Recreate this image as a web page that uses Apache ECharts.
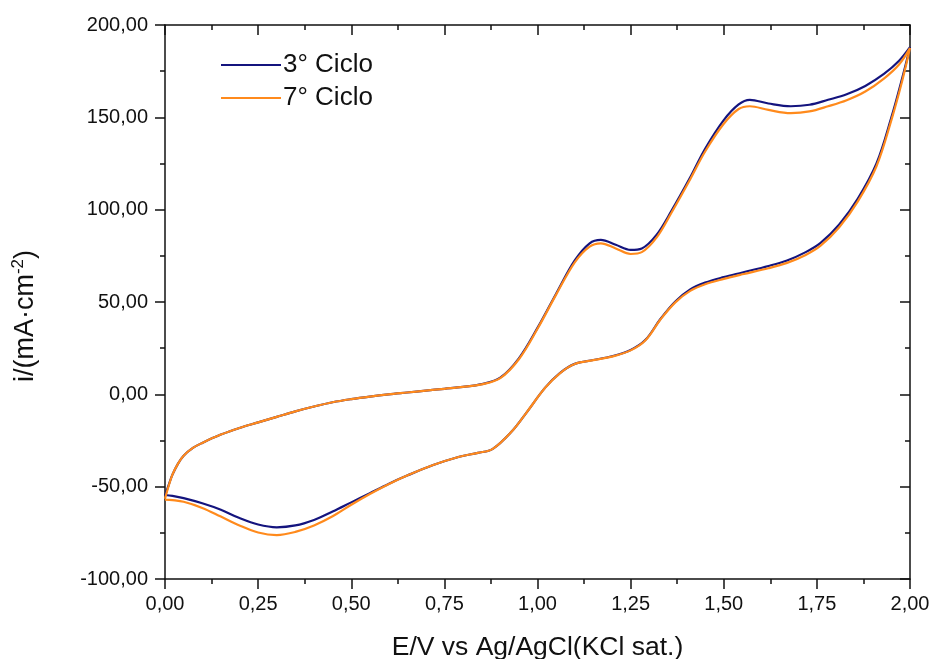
<!DOCTYPE html>
<html>
<head>
<meta charset="utf-8">
<script src="https://cdn.jsdelivr.net/npm/echarts@6/dist/echarts.min.js"></script>
<style>
html,body{margin:0;padding:0;background:#fff;}
#chart{width:934px;height:659px;}
</style>
</head>
<body>
<div id="chart"></div>
<script>
// Potential (V) for the forward (anodic) scan
const eForward = [0, 0.01, 0.02, 0.035, 0.05, 0.075, 0.1, 0.15, 0.2, 0.25, 0.3, 0.35, 0.4, 0.45, 0.5, 0.55, 0.6, 0.65, 0.7, 0.75, 0.8, 0.85, 0.9, 0.95, 1.0, 1.05, 1.1, 1.14, 1.17, 1.21, 1.25, 1.28, 1.32, 1.36, 1.41, 1.45, 1.5, 1.54, 1.57, 1.62, 1.68, 1.73, 1.78, 1.83, 1.88, 1.93, 1.97, 2.0];
// Potential (V) for the reverse (cathodic) scan
const eReverse = [2.0, 1.98, 1.95, 1.91, 1.86, 1.81, 1.76, 1.72, 1.67, 1.62, 1.55, 1.5, 1.45, 1.41, 1.37, 1.33, 1.29, 1.25, 1.2, 1.15, 1.1, 1.06, 1.02, 0.97, 0.93, 0.88, 0.84, 0.79, 0.72, 0.65, 0.6, 0.55, 0.5, 0.45, 0.4, 0.35, 0.3, 0.25, 0.2, 0.15, 0.1, 0.05, 0.02, 0];

// Current density (mA/cm2), 3rd cycle
const ciclo3Forward = [-55, -49, -43.5, -37.5, -33.2, -29, -26.3, -21.8, -18.2, -15.2, -12.2, -9.2, -6.6, -4.3, -2.6, -1.2, 0, 1, 2, 3, 4, 5.5, 9, 19.5, 36, 54.5, 72.5, 81.8, 83.6, 81, 78.2, 79, 86.5, 99.5, 117.5, 133, 148.5, 157, 159.5, 157.5, 156, 156.8, 159.5, 162.5, 167, 173.5, 180.5, 188];
const ciclo3Reverse = [188, 172, 150, 125, 106, 92, 82, 77, 72.5, 69.5, 66, 63.5, 60.5, 56.8, 50.3, 40.8, 29.5, 24, 20.6, 18.6, 16.5, 11.5, 3.5, -10, -20.3, -29.5, -31.7, -33.8, -38.3, -44, -48.5, -53.5, -58.5, -63.5, -68, -71, -72, -70.5, -67, -62.5, -59, -56.2, -55, -54.5];

// Current density (mA/cm2), 7th cycle
const ciclo7Forward = [-56.5, -49.5, -43.5, -37.5, -33.2, -29, -26.3, -21.8, -18.2, -15.2, -12.2, -9.2, -6.6, -4.3, -2.6, -1.2, 0, 1, 2, 3, 4, 5.4, 8.8, 19, 35.5, 54, 71.5, 80, 81.8, 79, 76, 77, 85, 98.5, 116.5, 131.5, 146.5, 154.5, 156, 154, 152.3, 153.2, 156, 159.3, 164, 171, 178.5, 187.5];
const ciclo7Reverse = [187.5, 170.5, 148.5, 123.5, 104.5, 90.5, 80.5, 75.5, 71.2, 68.3, 65, 62.5, 59.6, 56, 49.8, 40.5, 29.3, 23.8, 20.4, 18.5, 16.4, 11.4, 3.4, -10, -20.3, -29.5, -31.7, -33.8, -38.3, -44, -48.7, -54, -59.8, -66, -71, -74.5, -76.2, -74.8, -71, -66.2, -61.5, -58.2, -57.3, -57];

const seriesNames = ['3° Ciclo', '7° Ciclo'];
const xTitle = 'E/V vs Ag/AgCl(KCl sat.)';

function pairs(eArr, iArr) { return eArr.map((e, k) => [e, iArr[k]]); }
const data3 = pairs(eForward, ciclo3Forward).concat(pairs(eReverse, ciclo3Reverse));
const data7 = pairs(eForward, ciclo7Forward).concat(pairs(eReverse, ciclo7Reverse));

const fmt = v => v.toFixed(2).replace('.', ',');
const FONT = 'Liberation Sans, Arial, sans-serif';
const tickCol = '#111';

const chart = echarts.init(document.getElementById('chart'), null, {renderer: 'canvas'});
const xBase = {
  type: 'value', min: 0, max: 2, interval: 0.25,
  splitLine: {show: false},
  axisLine: {show: true, onZero: false, lineStyle: {color: tickCol, width: 1.5}},
  minorTick: {show: true, splitNumber: 2, length: 5, lineStyle: {color: tickCol, width: 1.5}},
  axisTick: {show: true, length: 10, lineStyle: {color: tickCol, width: 1.5}}
};
const yBase = {
  type: 'value', min: -100, max: 200, interval: 50,
  splitLine: {show: false},
  axisLine: {show: true, onZero: false, lineStyle: {color: tickCol, width: 1.5}},
  minorTick: {show: true, splitNumber: 2, length: 5, lineStyle: {color: tickCol, width: 1.5}},
  axisTick: {show: true, length: 10, lineStyle: {color: tickCol, width: 1.5}}
};
chart.setOption({
  animation: false,
  backgroundColor: '#fff',
  grid: {left: 165, right: 24, top: 25, bottom: 80, containLabel: false, outerBoundsMode: 'none'},
  legend: {
    orient: 'vertical', left: 216, top: 47,
    icon: 'rect', itemWidth: 60, itemHeight: 2, itemGap: 7,
    textStyle: {fontFamily: FONT, fontSize: 26, color: '#111', padding: [0, 0, 0, -3]},
    data: seriesNames
  },
  xAxis: [
    Object.assign({}, xBase, {
      position: 'bottom',
      name: xTitle, nameLocation: 'middle', nameGap: 55,
      nameTextStyle: {fontFamily: FONT, fontSize: 26.5, color: '#111'},
      axisLabel: {fontFamily: FONT, fontSize: 20, color: '#111', margin: 15, formatter: fmt}
    }),
    Object.assign({}, xBase, {
      position: 'top',
      axisTick: Object.assign({}, xBase.axisTick, {inside: true}),
      minorTick: Object.assign({}, xBase.minorTick, {inside: true}),
      axisLabel: {show: false}
    })
  ],
  yAxis: [
    Object.assign({}, yBase, {
      position: 'left',
      name: 'i/(mA·cm{sup|-2})', nameLocation: 'middle', nameGap: 123, nameRotate: 90,
      nameTextStyle: {fontFamily: FONT, fontSize: 27, color: '#111', padding: [0, 28, 0, 0],
        rich: {sup: {fontFamily: FONT, fontSize: 17, color: '#111', padding: [0, 0, 15, 0]}}},
      axisLabel: {fontFamily: FONT, fontSize: 20, color: '#111', margin: 17, formatter: fmt}
    }),
    Object.assign({}, yBase, {
      position: 'right',
      axisTick: Object.assign({}, yBase.axisTick, {inside: true}),
      minorTick: Object.assign({}, yBase.minorTick, {inside: true}),
      axisLabel: {show: false}
    })
  ],
  series: [
    {name: seriesNames[0], type: 'line', xAxisIndex: 0, yAxisIndex: 0, data: data3,
     showSymbol: false, smooth: 0.35, color: '#14147e', lineStyle: {width: 2.2, color: '#14147e'}},
    {name: seriesNames[1], type: 'line', xAxisIndex: 0, yAxisIndex: 0, data: data7,
     showSymbol: false, smooth: 0.35, color: '#ff8a1c', lineStyle: {width: 2.2, color: '#ff8a1c'}}
  ]
});
</script>
</body>
</html>
